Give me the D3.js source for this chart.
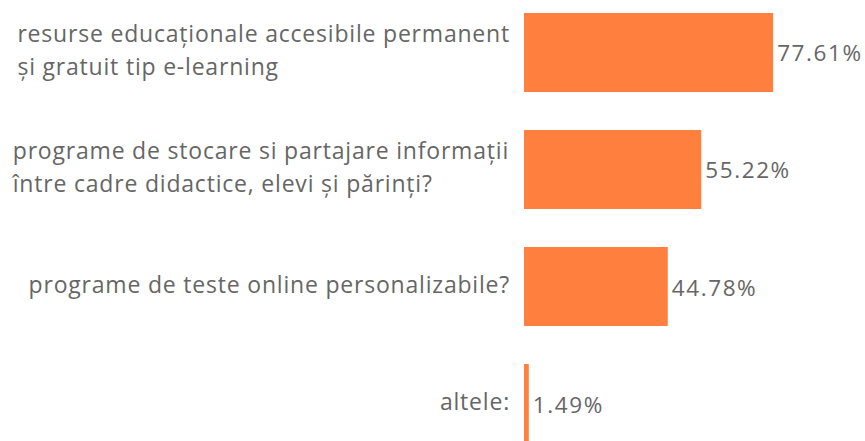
<meta charset="utf-8">
<html lang="ro">

<head>
    <meta charset="utf-8">
    <style>
        body {
            margin: 0;
            background: #fff;
        }
        text {
            font-family: "Open Sans", sans-serif;
            fill: #666;
        }
    </style>
</head>

<body>
    <div id="my_dataviz"></div>
    <script src="https://d3js.org/d3.v7.min.js"></script>

    <script>
        // categories (each label split in its display lines) and their percentages
        var categories = [
            ["resurse educaționale accesibile permanent", "și gratuit tip e-learning"],
            ["programe de stocare si partajare informații", "între cadre didactice, elevi și părinți?"],
            ["programe de teste online personalizabile?"],
            ["altele:"]
        ];
        var values = [77.61, 55.22, 44.78, 1.49];
        var valueLabels = ["77.61%", "55.22%", "44.78%", "1.49%"];

        var width = 865, height = 441;

        var svg = d3.select("#my_dataviz")
            .append("svg")
            .attr("width", width)
            .attr("height", height);

        var idx = d3.range(values.length);

        // x scale: percent to pixels
        var x = d3.scaleLinear()
            .domain([0, 100])
            .range([524, 845]);

        // y scale: one band per category
        var y = d3.scaleBand()
            .domain(idx)
            .range([13, 443])
            .paddingInner(0.325)
            .paddingOuter(0);

        // bars
        svg.selectAll("myBars")
            .data(idx)
            .enter()
            .append("rect")
            .attr("x", x(0))
            .attr("y", function (i) { return y(i) })
            .attr("width", function (i) { return x(values[i]) - x(0) })
            .attr("height", y.bandwidth())
            .style("fill", "#ff7f3f")

        // value labels right of each bar
        svg.selectAll("myValues")
            .data(idx)
            .enter()
            .append("text")
            .attr("x", function (i) { return x(values[i]) + 4 })
            .attr("y", function (i) { return y(i) + y.bandwidth() / 2 + 9 })
            .text(function (i) { return valueLabels[i] })
            .style("font-size", "22.5px")
            .style("letter-spacing", "1.6px")

        // category labels: block right edge at 510, lines left aligned inside the block
        var lineH = 33, labelRight = 510;
        svg.selectAll("myLabels")
            .data(idx)
            .enter()
            .append("text")
            .style("font-size", "23px")
            .style("letter-spacing", "0.8px")
            .each(function (i) {
                var lines = categories[i];
                var mid = y(i) + y.bandwidth() / 2 + 6 - (lines.length - 1) * lineH / 2;
                var spans = d3.select(this).selectAll("tspan")
                    .data(lines)
                    .enter()
                    .append("tspan")
                    .attr("x", 0)
                    .attr("y", function (d, k) { return mid + k * lineH })
                    .text(function (d) { return d });
                var w = this.getBBox().width;
                spans.attr("x", labelRight - w);
            })
    </script>
</body>

</html>
